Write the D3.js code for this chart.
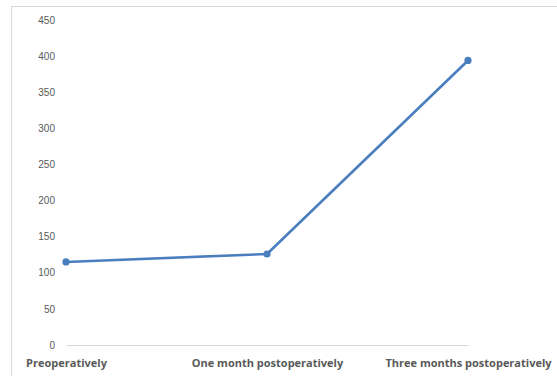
<!DOCTYPE html>
<html>
<head>
<meta charset="utf-8">
<script src="https://cdn.jsdelivr.net/npm/d3@7"></script>
<style>
  html, body { margin: 0; padding: 0; background: #fff; }
  svg { display: block; }
</style>
</head>
<body>
<svg id="chart" width="557" height="376"></svg>
<script>
const categories = ["Preoperatively", "One month postoperatively", "Three months postoperatively"];
const values = [115, 126, 394];
const yTicks = [0, 50, 100, 150, 200, 250, 300, 350, 400, 450];

const svg = d3.select("#chart");
const W = 557, H = 376;

// outer chart frame (runs off the right and bottom edges)
svg.append("rect")
  .attr("x", 11.5).attr("y", 6.5)
  .attr("width", W + 20).attr("height", H + 20)
  .attr("fill", "#fff").attr("stroke", "#d9d9d9").attr("stroke-width", 1);

const x = d3.scalePoint().domain(categories).range([66, 468]);
const y = d3.scaleLinear().domain([0, 450]).range([345, 20]);

// value axis: labels only
const yAxis = svg.append("g")
  .attr("transform", "translate(55,0)")
  .call(d3.axisLeft(y).tickValues(yTicks).tickSize(0).tickPadding(0));
yAxis.select(".domain").remove();
yAxis.selectAll("text")
  .attr("fill", "#595959")
  .style("font-family", "'Liberation Sans', Arial, sans-serif")
  .style("font-size", "10px");

// category axis: baseline and bold labels
const xAxis = svg.append("g")
  .attr("transform", `translate(0,${y(0)})`)
  .call(d3.axisBottom(x).tickSize(0).tickPadding(14));
xAxis.select(".domain").attr("stroke", "#d9d9d9").attr("stroke-width", 1.2);
xAxis.selectAll("text")
  .attr("fill", "#595959")
  .style("font-family", "'Open Sans', 'Liberation Sans', sans-serif")
  .style("font-weight", "bold")
  .style("font-size", "11px");

const data = categories.map((c, i) => ({ c, v: values[i] }));

svg.append("path")
  .datum(data)
  .attr("fill", "none")
  .attr("stroke", "#4a7ebf")
  .attr("stroke-width", 2.6)
  .attr("stroke-linejoin", "round")
  .attr("d", d3.line().x(d => x(d.c)).y(d => y(d.v)));

svg.selectAll("circle.pt")
  .data(data)
  .enter().append("circle")
  .attr("class", "pt")
  .attr("cx", d => x(d.c))
  .attr("cy", d => y(d.v))
  .attr("r", 3.6)
  .attr("fill", "#4a7ebf");
</script>
</body>
</html>
